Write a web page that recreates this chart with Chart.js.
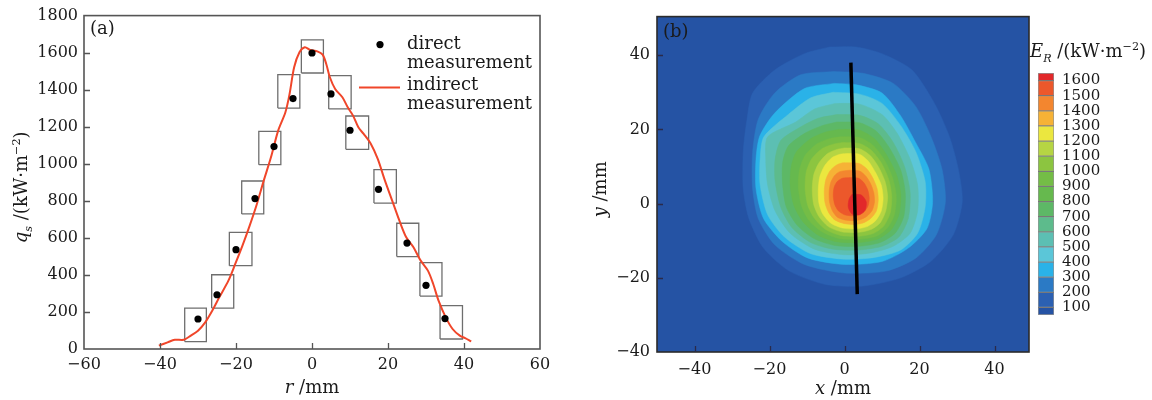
<!DOCTYPE html>
<html>
<head>
<meta charset="utf-8">
<script src="https://cdn.jsdelivr.net/npm/chart.js@4.4.0/dist/chart.umd.min.js"></script>
<style>
body { margin: 0; background: #fff; }
#wrap { position: relative; width: 1152px; height: 400px; }
canvas { position: absolute; top: 0; }
</style>
</head>
<body>
<div id="wrap">
  <canvas id="chartA" style="left:0px" width="560" height="400"></canvas>
  <canvas id="chartB" style="left:560px" width="592" height="400"></canvas>
  <canvas id="chartC" style="left:1000px" width="152" height="400"></canvas>
</div>
<script>
// ---- panel (a): heat flux along r ----
var rDirect = [-30, -25, -20, -15, -10, -5, 0, 5, 10, 17.5, 25, 30, 35];
var qDirect = [162, 293, 536, 812, 1093, 1352, 1598, 1377, 1181, 862, 572, 344, 164];
var boxLeft  = [-33.5, -26.4, -21.75, -18.5, -14, -9, -2.8, 4.4, 8.9, 16.3, 22.3, 28.4, 33.7];
var boxRight = [-27.8, -20.6, -15.8, -12.7, -8.2, -3.2, 3.0, 10.3, 14.9, 22.2, 28.1, 34.2, 39.6];
var boxLow   = [40, 221, 450, 729, 995, 1301, 1490, 1296, 1078, 788, 499, 286, 54];
var boxHigh  = [221, 401, 630, 907, 1175, 1481, 1669, 1476, 1258, 968, 679, 466, 234];

var rIndirect = [-40.3, -38, -36.1, -33.75, -31.9, -30, -28.1, -26.25, -24.4, -22, -20.2, -18.3, -16.4,
  -14.5, -12.7, -10.8, -8.9, -7.0, -5.9, -4.7, -3.3, -1.9, -0.5, 1.4, 2.8, 3.75, 4.7, 6.1, 8.0, 9.4,
  10.8, 12.2, 13.6, 15.5, 17.3, 19.2, 21.1, 23.0, 24.8, 26.7, 28.6, 30.5, 31.9, 33.3, 35.2, 37.0,
  38.9, 40.3, 41.9];
var qIndirect = [18, 36, 50, 50, 72, 99, 144, 207, 279, 369, 459, 558, 666,
  783, 909, 1035, 1179, 1278, 1377, 1521, 1602, 1629, 1615, 1607, 1589, 1539, 1467, 1404, 1359, 1305,
  1260, 1197, 1161, 1107, 1026, 909, 801, 693, 603, 549, 477, 423, 351, 261, 171, 108,
  72, 59, 41];

var xTicksA = [-60, -40, -20, 0, 20, 40, 60];
var yTicksA = [0, 200, 400, 600, 800, 1000, 1200, 1400, 1600, 1800];

// ---- panel (b): contour map, one outline per level (x, y in mm) ----
var levels = [100, 200, 300, 400, 500, 600, 700, 800, 900, 1000, 1100, 1200, 1300, 1400, 1500, 1600];
var c100 = [[-4,42.2],[3,42.2],[10,40.4],[18,36],[24,27],[28,18],[30.4,9],[31.4,0.5],[29,-8.4],[23,-15.6],[15,-20],[5,-22.2],[-5,-21.8],[-14.7,-18.2],[-21.6,-12],[-25.5,-4],[-27,4],[-27,14],[-26,22.7],[-24.5,29.8],[-18.6,36],[-10.7,40.4]];
var c200 = [[-2.8,35.6],[5,35.1],[13,32.4],[19,26.2],[23,18.2],[26,9.3],[26.9,0.4],[24.5,-8.4],[19,-14.7],[11,-18.2],[0,-18.7],[-10.7,-16.4],[-18.6,-11.1],[-23,-4],[-24.5,4],[-24.5,13.8],[-23,22.7],[-18.6,29.8],[-11.7,34.7]];
var c300 = [[-2.8,32.4],[3.2,32],[10,29.8],[15,23.6],[19,16.4],[22.5,9.3],[23.5,0.4],[22,-6.7],[17,-12],[10,-15.6],[0,-16.4],[-9.7,-14.7],[-16.6,-10.2],[-21.6,-4],[-23.6,4],[-23.6,12],[-22.6,18.2],[-18.6,24.4],[-10.7,31]];
var c400 = [[-3,30],[4,29.5],[10,27],[15,21],[19,14],[21.5,6],[21.5,-1],[19.5,-8],[15,-12.5],[8,-14.5],[0,-15],[-9,-13.5],[-16,-9],[-20.5,-3],[-22.5,5],[-22.5,12],[-21.5,18],[-15,24],[-9,28.5]];
var c500 = [[-2.5,27],[4,26.8],[10,24],[14,19],[17.5,12],[19.5,5],[19.5,-2],[17.5,-8],[13,-11.5],[7,-13.3],[0,-13.8],[-8,-12.3],[-14.5,-8],[-18.5,-2],[-20.5,5],[-21,12],[-20.5,18],[-13,22],[-8,25.5]];
var c600 = [[-2,24],[4,23.8],[9,21.5],[13,16.5],[16,10],[17.5,3],[17,-4],[14.5,-9],[10,-11.5],[4,-12.5],[-3,-12.3],[-9,-10.5],[-14,-6.5],[-17,-1],[-18.5,6],[-18.5,12],[-17,17],[-12,20.5],[-7,23]];
var c700 = [[-2,22],[4,21.8],[8.5,19.5],[12,15],[15,9],[16.2,3],[15.8,-3.5],[13.5,-8],[9.5,-10.5],[4,-11.5],[-2.5,-11.3],[-8,-9.5],[-12.5,-6],[-15.5,-1],[-16.5,5],[-16.5,11],[-15,15.5],[-10.5,19],[-6,21]];
var c800 = [[-1.5,20],[4,19.8],[8,17.5],[11,13.5],[13.8,8],[15,2.5],[14.5,-3],[12.5,-7],[9,-9.5],[4,-10.5],[-2,-10.3],[-7,-8.5],[-11,-5],[-13.5,-0.5],[-14.5,5],[-14.2,10],[-12.8,14],[-9,17.5],[-5,19.3]];
var c900 = [[-1,18],[4,17.8],[7.5,15.8],[10.5,12],[12.8,7],[13.8,2],[13.3,-3],[11.5,-6.5],[8.5,-8.8],[4,-9.6],[-1.5,-9.4],[-6,-7.6],[-9.5,-4.5],[-11.5,-0.5],[-12.3,4.5],[-12,9],[-10.5,13],[-7.5,16],[-4,17.5]];
var c1000 = [[-0.5,16.5],[4,16.2],[7,14.5],[9.8,11],[11.8,6.5],[12.6,2],[12.2,-2.5],[10.5,-6],[7.8,-8],[4,-8.8],[-1,-8.6],[-5,-7],[-8,-4],[-9.8,-0.5],[-10.5,4],[-10.2,8.5],[-8.8,12],[-6,14.8],[-3,16]];
var c1100 = [[0,15],[4,14.8],[6.8,13],[9,10],[10.8,6],[11.5,2],[11,-2],[9.5,-5.2],[7,-7],[3.5,-7.8],[-0.8,-7.6],[-4.3,-6.2],[-6.8,-3.5],[-8.2,-0.3],[-8.6,3.8],[-8.2,7.8],[-6.8,11],[-4.5,13.5],[-2,14.6]];
var c1200 = [[0.5,13.5],[4,13.3],[6.3,11.5],[8.2,8.5],[9.8,5],[10.3,1.5],[9.8,-2],[8.3,-4.6],[6,-6.2],[3.2,-6.8],[-0.5,-6.6],[-3.6,-5.3],[-5.8,-2.8],[-6.8,0],[-7,3.6],[-6.6,7.2],[-5.3,10.2],[-3.3,12.4],[-1.2,13.3]];
var c1300 = [[1,11],[4,10.8],[6,9.3],[7.5,7],[8.7,4],[9,1],[8.5,-2],[7,-4],[5,-5.2],[2.8,-5.6],[0,-5.4],[-2.6,-4.4],[-4.3,-2.3],[-5.2,0.2],[-5.4,3.4],[-5,6.4],[-3.9,8.8],[-2.3,10.3],[-0.5,11]];
var c1400 = [[1.3,9],[4,8.8],[5.6,7.5],[6.9,5.5],[7.8,3],[8,0.5],[7.4,-1.8],[6,-3.4],[4.3,-4.3],[2.3,-4.6],[0,-4.4],[-2,-3.6],[-3.3,-1.8],[-4,0.5],[-4.1,3.2],[-3.7,5.6],[-2.7,7.5],[-1.3,8.6]];
var c1500 = [[1.6,7],[3.8,6.8],[5.2,5.6],[6.2,3.7],[6.6,1.5],[6.3,-0.6],[5.2,-2.2],[3.7,-3.1],[1.9,-3.3],[0,-3],[-1.6,-2],[-2.6,-0.3],[-3,2],[-2.8,4.3],[-1.9,6],[-0.4,6.9]];
var c1600 = [[2,2.5],[4.5,2.3],[5.8,0.5],[5.5,-1.8],[4,-3],[2,-2.8],[1,-1],[1.2,1.2]];
var contours = [c100, c200, c300, c400, c500, c600, c700, c800, c900, c1000, c1100, c1200, c1300, c1400, c1500, c1600];

var lineX = [1.7, 3.4];
var lineY = [38, -24.4];

var xTicksB = [-40, -20, 0, 20, 40];
var yTicksB = [-40, -20, 0, 20, 40];

// colour bar: band bounds and the labelled values
var bandLo = [50, 100, 200, 300, 400, 500, 600, 700, 800, 900, 1000, 1100, 1200, 1300, 1400, 1500, 1600];
var bandHi = [100, 200, 300, 400, 500, 600, 700, 800, 900, 1000, 1100, 1200, 1300, 1400, 1500, 1600, 1650];
var barTicks = [100, 200, 300, 400, 500, 600, 700, 800, 900, 1000, 1100, 1200, 1300, 1400, 1500, 1600];

var bandColors = ['#2553a4', '#2b60b2', '#2b7ac5', '#2ab2e8', '#5bc6d8', '#5cbfb3', '#5dbb8c', '#5db866',
  '#66b94e', '#74bd46', '#8cc540', '#b6d543', '#ebe73f', '#f6b236', '#f3862f', '#ec582b', '#e2282a'];

var FAM = '"DejaVu Serif", serif';

function minusFmt(v) {
  return v < 0 ? '\u2212' + Math.abs(v) : String(v);
}

// draws text made of pieces: 'n' normal, 'i' italic, 'isub' italic subscript, 'sup' superscript
function richText(ctx, parts, x, y, size, align) {
  function font(st) {
    var s = (st == 'isub' || st == 'sup') ? size * 0.62 : size;
    return ((st == 'i' || st == 'isub') ? 'italic ' : '') + s + 'px ' + FAM;
  }
  var w = 0;
  parts.forEach(function (p) { ctx.font = font(p[1]); w += ctx.measureText(p[0]).width; });
  var cx = align == 'center' ? x - w / 2 : x;
  ctx.textAlign = 'left';
  ctx.textBaseline = 'alphabetic';
  parts.forEach(function (p) {
    ctx.font = font(p[1]);
    var dy = p[1] == 'isub' ? size * 0.3 : (p[1] == 'sup' ? -size * 0.4 : 0);
    ctx.fillText(p[0], cx, y + dy);
    cx += ctx.measureText(p[0]).width;
  });
}

// box round the plot, inward tick marks, optional background
var framePlugin = {
  id: 'frame',
  beforeDatasetsDraw: function (chart, args, opts) {
    if (!opts.bg) return;
    var a = chart.chartArea, ctx = chart.ctx;
    ctx.save();
    ctx.fillStyle = opts.bg;
    ctx.fillRect(a.left, a.top, a.right - a.left, a.bottom - a.top);
    ctx.restore();
  },
  afterDatasetsDraw: function (chart, args, opts) {
    var a = chart.chartArea, ctx = chart.ctx;
    var sx = chart.scales.x, sy = chart.scales.y;
    ctx.save();
    ctx.strokeStyle = opts.color;
    ctx.lineWidth = opts.width;
    ctx.strokeRect(a.left, a.top, a.right - a.left, a.bottom - a.top);
    ctx.strokeStyle = opts.tickColor;
    ctx.lineWidth = 1.3;
    ctx.beginPath();
    sx.ticks.forEach(function (t) {
      var px = Math.round(sx.getPixelForValue(t.value)) + 0.5;
      if (px < a.left + 2 || px > a.right - 2) return;
      ctx.moveTo(px, a.bottom);
      ctx.lineTo(px, a.bottom - opts.tickLen);
    });
    sy.ticks.forEach(function (t) {
      var py = Math.round(sy.getPixelForValue(t.value)) + 0.5;
      if (py < a.top + 2 || py > a.bottom - 2) return;
      ctx.moveTo(a.left, py);
      ctx.lineTo(a.left + opts.tickLen, py);
    });
    ctx.stroke();

    ctx.fillStyle = '#1a1a1a';
    ctx.font = '18px ' + FAM;
    ctx.textAlign = 'left';
    ctx.textBaseline = 'alphabetic';
    ctx.fillText(opts.tag, a.left + 6, a.top + opts.tagDy);

    richText(ctx, opts.xTitle, (a.left + a.right) / 2, a.bottom + opts.xTitleDy, 18, 'center');
    ctx.translate(opts.yTitleX, (a.top + a.bottom) / 2 + 5);
    ctx.rotate(-Math.PI / 2);
    richText(ctx, opts.yTitle, 0, 0, 18, 'center');
    ctx.restore();
  }
};

// legend of panel (a), two text lines per entry
var legendPlugin = {
  id: 'legendA',
  afterDatasetsDraw: function (chart) {
    var ctx = chart.ctx, a = chart.chartArea;
    var ds = chart.data.datasets;
    var x0 = a.right - 181, y0 = a.top;
    ctx.save();
    ctx.fillStyle = ds[0].backgroundColor;
    ctx.beginPath();
    ctx.arc(x0 + 21, y0 + 29, 3.6, 0, Math.PI * 2);
    ctx.fill();
    ctx.strokeStyle = ds[1].borderColor;
    ctx.lineWidth = 2;
    ctx.beginPath();
    ctx.moveTo(x0, y0 + 72);
    ctx.lineTo(x0 + 41, y0 + 72);
    ctx.stroke();
    ctx.fillStyle = '#1a1a1a';
    ctx.font = '18px ' + FAM;
    ctx.textAlign = 'left';
    ctx.textBaseline = 'alphabetic';
    var l0 = ds[0].label.split(' '), l1 = ds[1].label.split(' ');
    ctx.fillText(l0[0], x0 + 48, y0 + 33);
    ctx.fillText(l0[1], x0 + 48, y0 + 52);
    ctx.fillText(l1[0], x0 + 48, y0 + 74);
    ctx.fillText(l1[1], x0 + 48, y0 + 93);
    ctx.restore();
  }
};

function tickOpts(size, pad) {
  return { padding: pad, color: '#1a1a1a', font: { family: FAM, size: size }, autoSkip: false, maxRotation: 0,
    callback: function (v) { return minusFmt(v); } };
}

// ---------- chart (a) ----------
var dsA = [
  { label: 'direct measurement', data: rDirect.map(function (r, i) { return { x: r, y: qDirect[i] }; }),
    pointRadius: 3.6, backgroundColor: '#000', borderWidth: 0, order: 0 },
  { label: 'indirect measurement', data: rIndirect.map(function (r, i) { return { x: r, y: qIndirect[i] }; }),
    showLine: true, borderColor: '#f0462a', borderWidth: 2, pointRadius: 0, tension: 0.3, order: 1 }
];
for (var i = 0; i < boxLeft.length; i++) {
  dsA.push({
    label: 'box' + i,
    data: [{ x: boxLeft[i], y: boxLow[i] }, { x: boxRight[i], y: boxLow[i] }, { x: boxRight[i], y: boxHigh[i] },
      { x: boxLeft[i], y: boxHigh[i] }, { x: boxLeft[i], y: boxLow[i] }],
    showLine: true, borderColor: '#6e6e6e', borderWidth: 1.3, pointRadius: 0, order: 2
  });
}

new Chart('chartA', {
  type: 'scatter',
  data: { datasets: dsA },
  options: {
    responsive: false, animation: false, events: [],
    layout: { padding: { top: 15, right: 20, left: 0, bottom: 0 } },
    plugins: {
      legend: { display: false }, tooltip: { enabled: false },
      frame: { color: '#555', width: 1.6, tickColor: '#555', tickLen: 6, tag: '(a)', tagDy: 18,
        xTitle: [['r', 'i'], [' /mm', 'n']], xTitleDy: 44, yTitleX: 27,
        yTitle: [['q', 'i'], ['s', 'isub'], [' /(kW\u00b7m', 'n'], ['\u22122', 'sup'], [')', 'n']] }
    },
    scales: {
      x: { type: 'linear', min: -60, max: 60, grid: { display: false, drawTicks: false }, border: { display: false },
        afterBuildTicks: function (s) { s.ticks = xTicksA.map(function (v) { return { value: v }; }); },
        afterFit: function (s) { s.height = 51; }, ticks: tickOpts(16, 6) },
      y: { min: 0, max: 1800, grid: { display: false, drawTicks: false }, border: { display: false },
        afterBuildTicks: function (s) { s.ticks = yTicksA.map(function (v) { return { value: v }; }); },
        afterFit: function (s) { s.width = 84; }, ticks: tickOpts(16, 6) }
    }
  },
  plugins: [framePlugin, legendPlugin]
});

// ---------- chart (b) ----------
var dsB = [{
  label: 'line', data: [{ x: lineX[0], y: lineY[0] }, { x: lineX[1], y: lineY[1] }],
  showLine: true, borderColor: '#000', borderWidth: 3.5, pointRadius: 0, order: 0
}];
contours.forEach(function (pts, k) {
  var d = pts.map(function (p) { return { x: p[0], y: p[1] }; });
  d.push({ x: pts[0][0], y: pts[0][1] });
  dsB.push({
    label: String(levels[k]), data: d, showLine: true, fill: 'shape',
    backgroundColor: bandColors[k + 1], borderColor: bandColors[k + 1], borderWidth: 0.5,
    pointRadius: 0, tension: 0.25, order: contours.length - k
  });
});

new Chart('chartB', {
  type: 'scatter',
  data: { datasets: dsB },
  options: {
    responsive: false, animation: false, events: [],
    layout: { padding: { top: 13, right: 123, left: 0, bottom: 0 } },
    plugins: {
      legend: { display: false }, tooltip: { enabled: false },
      frame: { bg: bandColors[0], color: '#2b2b2b', width: 1.6, tickColor: '#2a2a4a', tickLen: 6, tag: '(b)', tagDy: 20,
        xTitle: [['x', 'i'], [' /mm', 'n']], xTitleDy: 42, yTitleX: 46,
        yTitle: [['y', 'i'], [' /mm', 'n']] }
    },
    scales: {
      x: { type: 'linear', min: -50, max: 49.2, grid: { display: false, drawTicks: false }, border: { display: false },
        afterBuildTicks: function (s) { s.ticks = xTicksB.map(function (v) { return { value: v }; }); },
        afterFit: function (s) { s.height = 48; }, ticks: tickOpts(16, 8) },
      y: { min: -40, max: 50.4, grid: { display: false, drawTicks: false }, border: { display: false },
        afterBuildTicks: function (s) { s.ticks = yTicksB.map(function (v) { return { value: v }; }); },
        afterFit: function (s) { s.width = 97; }, ticks: tickOpts(16, 7) }
    }
  },
  plugins: [framePlugin]
});

// ---------- colour bar ----------
var barTitle = {
  id: 'barTitle',
  afterDraw: function (chart) {
    var ctx = chart.ctx;
    ctx.save();
    ctx.fillStyle = '#1a1a1a';
    richText(ctx, [['E', 'i'], ['R', 'isub'], [' /(kW\u00b7m', 'n'], ['\u22122', 'sup'], [')', 'n']],
      chart.chartArea.left - 8, chart.chartArea.top - 16, 18, 'left');
    ctx.restore();
  }
};

new Chart('chartC', {
  type: 'bar',
  data: {
    labels: ['E'],
    datasets: bandLo.map(function (lo, k) {
      return { data: [[lo, bandHi[k]]], backgroundColor: bandColors[k], borderColor: 'rgba(60,60,60,0.55)',
        borderWidth: 1, borderSkipped: false, barPercentage: 1, categoryPercentage: 1, grouped: false };
    })
  },
  options: {
    responsive: false, animation: false, events: [],
    layout: { padding: { left: 38, top: 73, bottom: 85, right: 0 } },
    plugins: { legend: { display: false }, tooltip: { enabled: false } },
    scales: {
      x: { display: false },
      y: { position: 'right', min: 50, max: 1650, grid: { display: false, drawTicks: false }, border: { display: false },
        afterBuildTicks: function (s) { s.ticks = barTicks.map(function (v) { return { value: v }; }); },
        afterFit: function (s) { s.width = 98; },
        ticks: { padding: 8, color: '#1a1a1a', font: { family: FAM, size: 15 }, autoSkip: false,
          callback: function (v) { return String(v); } } }
    }
  },
  plugins: [barTitle]
});
</script>
</body>
</html>
